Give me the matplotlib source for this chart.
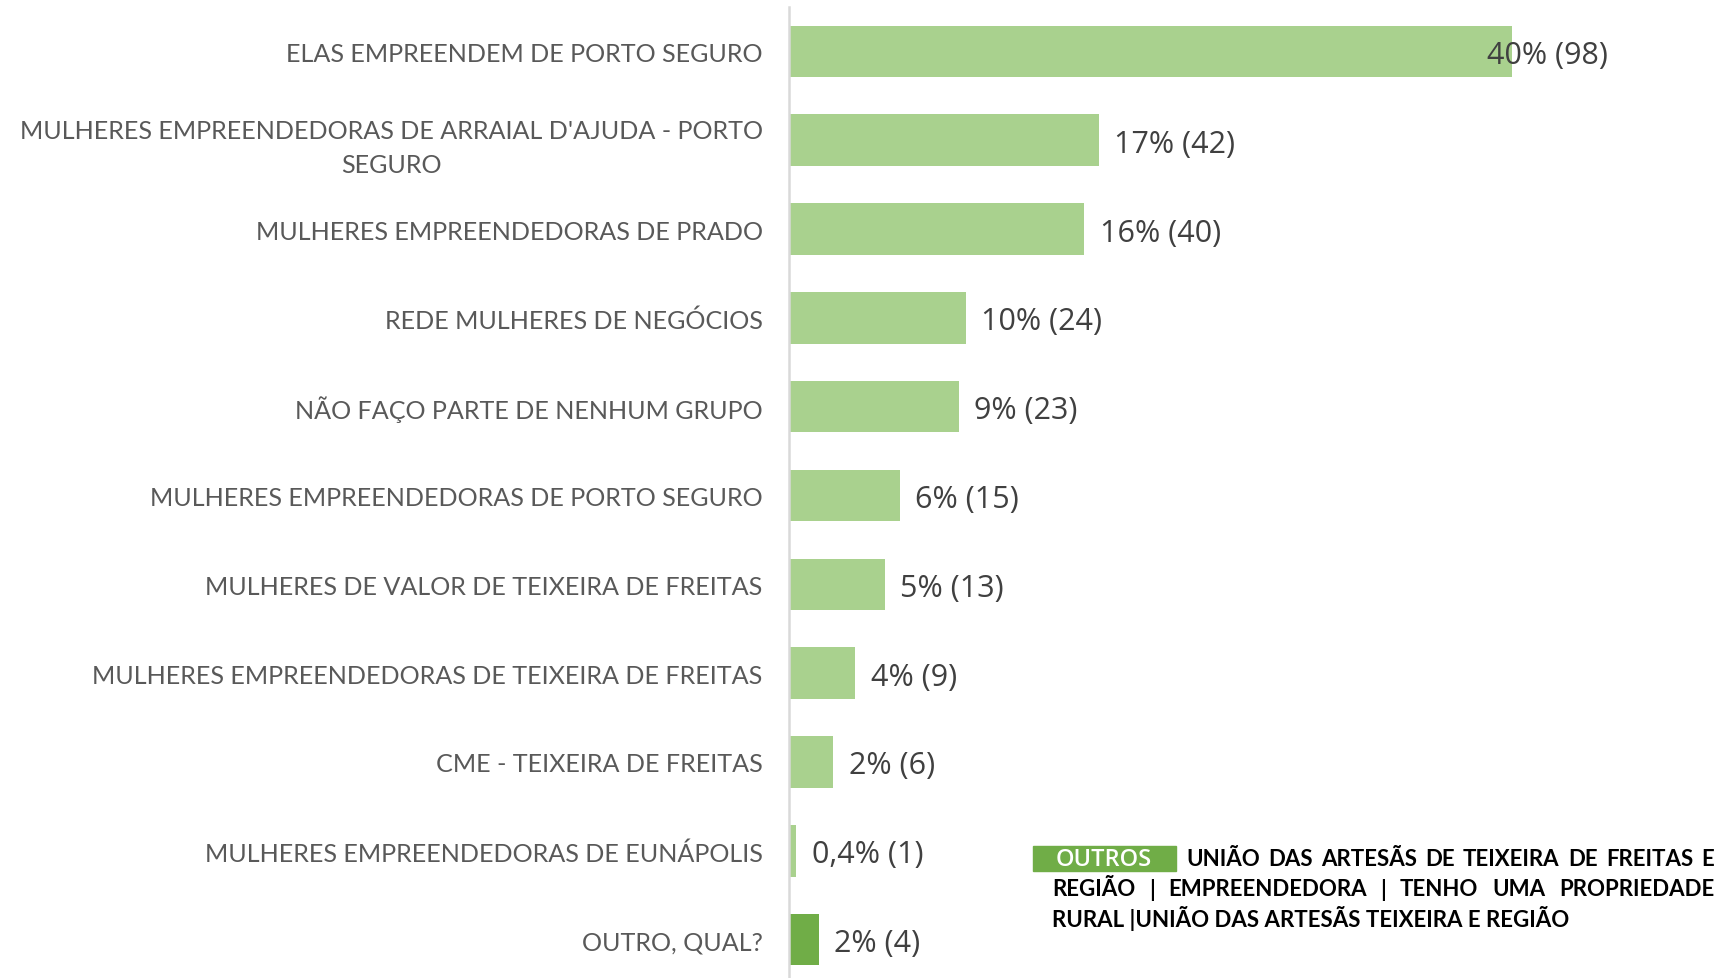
import matplotlib
matplotlib.use("Agg")
import matplotlib.pyplot as plt
from matplotlib.patches import Rectangle

# dados do gráfico
categorias = [
    "ELAS EMPREENDEM DE PORTO SEGURO",
    "MULHERES EMPREENDEDORAS DE ARRAIAL D'AJUDA - PORTO\nSEGURO",
    "MULHERES EMPREENDEDORAS DE PRADO",
    "REDE MULHERES DE NEGÓCIOS",
    "NÃO FAÇO PARTE DE NENHUM GRUPO",
    "MULHERES EMPREENDEDORAS DE PORTO SEGURO",
    "MULHERES DE VALOR DE TEIXEIRA DE FREITAS",
    "MULHERES EMPREENDEDORAS DE TEIXEIRA DE FREITAS",
    "CME - TEIXEIRA DE FREITAS",
    "MULHERES EMPREENDEDORAS DE EUNÁPOLIS",
    "OUTRO, QUAL?",
]
contagens = [98, 42, 40, 24, 23, 15, 13, 9, 6, 1, 4]
rotulos = ["40% (98)", "17% (42)", "16% (40)", "10% (24)", "9% (23)", "6% (15)",
           "5% (13)", "4% (9)", "2% (6)", "0,4% (1)", "2% (4)"]

nota_titulo = "OUTROS"
nota_linhas = [
    "UNIÃO DAS ARTESÃS DE TEIXEIRA DE FREITAS E",
    "REGIÃO | EMPREENDEDORA | TENHO UMA PROPRIEDADE",
    "RURAL |UNIÃO DAS ARTESÃS TEIXEIRA E REGIÃO",
]

VERDE_CLARO = "#A9D18E"
VERDE = "#70AD47"
FONTE_CAT = ["Lato", "DejaVu Sans"]
FONTE_VAL = ["Open Sans", "DejaVu Sans"]

W, H = 1719, 979
fig = plt.figure(figsize=(W / 100, H / 100), dpi=100)
renderer = fig.canvas.get_renderer()


def tamanho_para_largura(texto, largura_px, **kw):
    # mede o texto a 20pt e escala o tamanho até a largura desejada
    t = fig.text(0, 0, texto, fontsize=20, **kw)
    w = t.get_window_extent(renderer).width
    t.remove()
    return 20 * largura_px / w


fs_cat = tamanho_para_largura(categorias[0], 478, family=FONTE_CAT)

# eixo: topo ~8px, base um pouco abaixo da figura
ax = fig.add_axes([789 / W, -6 / H, 1 - 789 / W, (977) / H])

cores = [VERDE_CLARO] * (len(contagens) - 1) + [VERDE]
y = list(range(len(categorias)))
ax.barh(y, contagens, height=0.58, color=cores)

ax.set_ylim(len(categorias) - 0.5, -0.5)
ax.set_xlim(0, 126)
ax.set_yticks(y)
ax.set_yticklabels(categorias, fontsize=fs_cat, color="#595959", family=FONTE_CAT,
                   linespacing=1.55)
for lbl in ax.get_yticklabels():
    lbl.set_multialignment("center")
ax.tick_params(axis="y", length=0, pad=19)
ax.set_xticks([])
for lado in ["top", "right", "bottom"]:
    ax.spines[lado].set_visible(False)
ax.spines["left"].set_color("#D9D9D9")
ax.spines["left"].set_linewidth(1.8)

for i, (c, r) in enumerate(zip(contagens, rotulos)):
    desloc = -18 if i == 0 else 11
    ax.annotate(r, (c, i), xytext=(desloc, -2.5), textcoords="offset points",
                va="center", ha="left", fontsize=22, color="#404040",
                family=FONTE_VAL)

# nota "OUTROS"
fig.patches.append(Rectangle((1033 / W, 1 - 872 / H), 143 / W, 25 / H,
                             transform=fig.transFigure, color=VERDE, zorder=3))
fig.text(1104 / W, 1 - 860 / H, nota_titulo, ha="center", va="center",
         fontsize=17, color="white", family=FONTE_VAL, fontweight="semibold",
         zorder=4)

fs_nota = tamanho_para_largura(nota_linhas[2], 516, family=FONTE_CAT,
                               fontweight="bold")
linhas_info = [(1186, 860, True), (1052, 890, True), (1052, 919, False)]
direita = 1714
for texto, (x0, yc, justificar) in zip(nota_linhas, linhas_info):
    if not justificar:
        fig.text(x0 / W, 1 - yc / H, texto, ha="left", va="center",
                 fontsize=fs_nota, fontweight="bold", color="black",
                 family=FONTE_CAT)
        continue
    palavras = texto.split()
    objs = [fig.text(0, 1 - yc / H, p, ha="left", va="center", fontsize=fs_nota,
                     fontweight="bold", color="black", family=FONTE_CAT)
            for p in palavras]
    larguras = [o.get_window_extent(renderer).width for o in objs]
    espaco = (direita - x0 - sum(larguras)) / (len(objs) - 1)
    x = x0
    for o, w in zip(objs, larguras):
        o.set_x(x / W)
        x += w + espaco

fig.savefig("out.png", dpi=100, facecolor="white")
